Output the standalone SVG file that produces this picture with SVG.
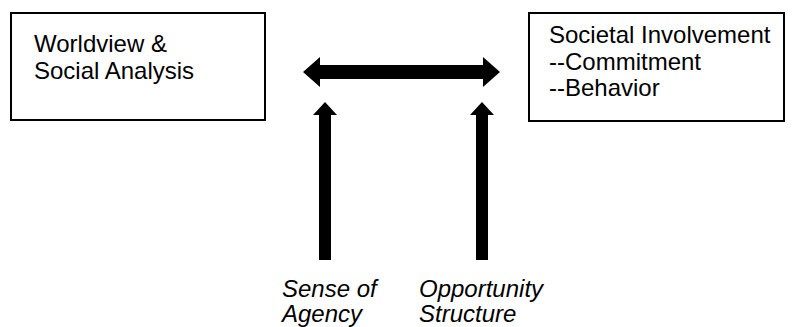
<svg xmlns="http://www.w3.org/2000/svg" width="797" height="327" viewBox="0 0 797 327">
<style>
.box{fill:#fff;stroke:#000;stroke-width:2}
.t{font-family:"Liberation Sans",Arial,Helvetica,sans-serif;font-size:24px;fill:#000}
.i{font-style:italic}
.arr{fill:#000}
</style>
<rect width="797" height="327" fill="#fff"/>
<g id="worldview">
<rect class="box" x="11" y="13" width="254" height="107"/>
<text class="t" x="34" y="52">Worldview &amp;</text>
<text class="t" x="34" y="79">Social Analysis</text>
</g>
<g id="societal">
<rect class="box" x="529" y="13" width="255" height="108"/>
<text class="t" x="549" y="43">Societal Involvement</text>
<text class="t" x="549" y="70">--Commitment</text>
<text class="t" x="549" y="96">--Behavior</text>
</g>
<g id="agency">
<text class="t i" x="282" y="297">Sense of</text>
<text class="t i" x="282" y="322">Agency</text>
</g>
<g id="opportunity">
<text class="t i" x="419" y="297">Opportunity</text>
<text class="t i" x="419" y="322">Structure</text>
</g>
<g id="connectors">
<path class="arr" d="M303,72 L320,57 L320,65 L483,65 L483,57 L500,72 L483,87 L483,79 L320,79 L320,87 Z"/>
<path class="arr" d="M325,102 L337,115 L331,115 L331,260 L319,260 L319,115 L313,115 Z"/>
<path class="arr" d="M482,102 L494,115 L488,115 L488,260 L476,260 L476,115 L470,115 Z"/>
</g>
</svg>
